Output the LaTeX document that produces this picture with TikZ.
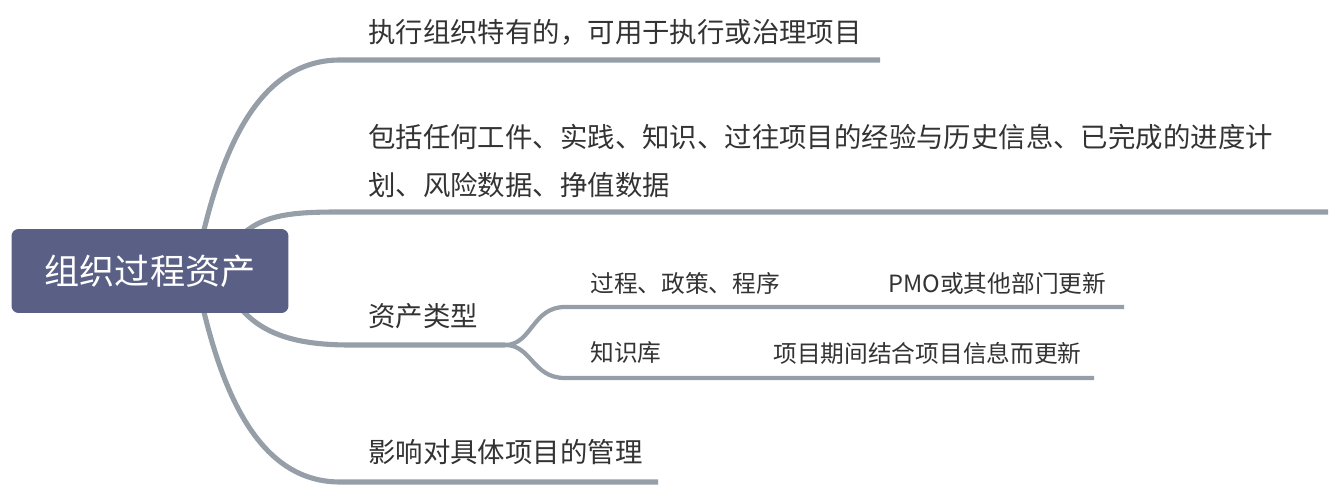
\documentclass[tikz,border=0pt]{standalone}
\usepackage{fontspec}
\setmainfont{Noto Sans CJK SC}
\usetikzlibrary{positioning, calc, backgrounds}
\definecolor{croot}{HTML}{5A5F85}
\definecolor{cline}{HTML}{969EA8}
\definecolor{ctext}{HTML}{333333}
\tikzset{
  every picture/.style={x=0.02cm, y=-0.02cm},
  root/.style={fill=croot, text=white, rounded corners=4pt, minimum width=5.54cm, minimum height=1.68cm, inner sep=0pt, font=\fontsize{20pt}{24pt}\selectfont},
  topic/.style={anchor=west, text=ctext, inner sep=0pt, align=left, font=\fontsize{15.6pt}{27.2pt}\selectfont},
  subtopic/.style={anchor=west, text=ctext, inner sep=0pt, font=\fontsize{13.5pt}{16pt}\selectfont},
  branch/.style={draw=cline, line width=2.9pt, line cap=butt},
  subbranch/.style={draw=cline, line width=2.4pt, line cap=butt},
}

\begin{document}
\begin{tikzpicture}
  \useasboundingbox (0,0) rectangle (1340,486);
  % ---- root
  \node[root] (root) at (150,271) {组织过程资产};
  % ---- topics
  \node[topic] (use) at (368,32) {执行组织特有的，可用于执行或治理项目};
  \node[topic] (incl) at (368,161) {包括任何工件、实践、知识、过往项目的经验与历史信息、已完成的进度计\\划、风险数据、挣值数据};
  \node[topic] (kind) at (368,316) {资产类型};
  \node[topic] (eff) at (368,452) {影响对具体项目的管理};
  % ---- asset kinds
  \node[subtopic] (proc) at (590,283) {过程、政策、程序};
  \node[subtopic] (procn) at (888,283) {PMO或其他部门更新};
  \node[subtopic] (kb) at (590,353) {知识库};
  \node[subtopic] (kbn) at (773,353) {项目期间结合项目信息而更新};
  % ---- connectors
  \coordinate (b1s) at (340,60);  \coordinate (b1e) at (880,60);
  \coordinate (b2s) at (340,212); \coordinate (b2e) at (1328,212);
  \coordinate (b3s) at (350,345); \coordinate (fork) at (505,345);
  \coordinate (b4s) at (340,482); \coordinate (b4e) at (658,482);
  \coordinate (s1s) at (565,307); \coordinate (s1e) at (1124,307);
  \coordinate (s2s) at (565,378); \coordinate (s2e) at (1094,378);
  \begin{scope}[on background layer]
    \draw[branch] ($(root)+(45,0)$) .. controls (215,170) and (250,60) .. (b1s) -- (b1e);
    \draw[branch] ($(root)+(70,0)$) .. controls (240,215) and (280,212) .. (b2s) -- (b2e);
    \draw[branch] ($(root)+(70,0)$) .. controls (240,327) and (280,345) .. (b3s) -- (fork);
    \draw[branch] ($(root)+(45,0)$) .. controls (215,372) and (250,482) .. (b4s) -- (b4e);
    \draw[subbranch] (fork) .. controls (532,345) and (532,307) .. (s1s) -- (s1e);
    \draw[subbranch] (fork) .. controls (532,345) and (532,378) .. (s2s) -- (s2e);
  \end{scope}
\end{tikzpicture}
\end{document}
